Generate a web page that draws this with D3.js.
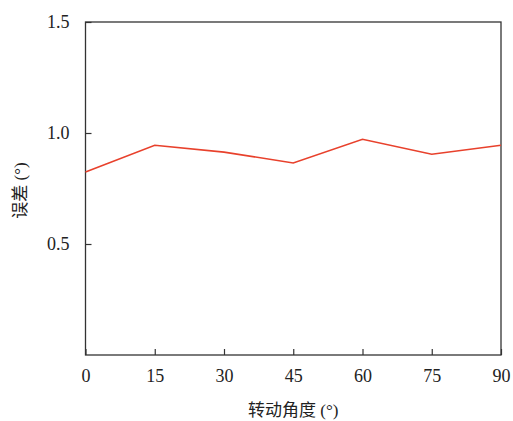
<!DOCTYPE html>
<html>
<head>
<meta charset="utf-8">
<script src="https://cdn.jsdelivr.net/npm/d3@7"></script>
<style>
  body { margin: 0; background: #fff; }
  svg text { font-family: "Liberation Serif", "DejaVu Serif", "Times New Roman", serif; fill: #222; }
  svg .cjk { font-family: "Noto Sans CJK SC", "Noto Sans", sans-serif; }
</style>
</head>
<body>
<div class="chart"></div>
<script>
const angles = [0, 15, 30, 45, 60, 75, 90]
const errors = [0.824, 0.945, 0.914, 0.865, 0.972, 0.904, 0.945]
const yTicks = [0.5, 1.0, 1.5]

const width = 513
const height = 421
const margin = {top: 22, right: 12, bottom: 66, left: 85.5}
const serif = "'Liberation Serif', 'DejaVu Serif', 'Times New Roman', serif"

const svg = d3.select(".chart").append("svg")
  .attr("width", width)
  .attr("height", height)

const x = d3.scaleLinear()
  .domain([0, 90])
  .range([margin.left, width - margin.right])

const y = d3.scaleLinear()
  .domain([0, 1.5])
  .range([height - margin.bottom, margin.top])

// frame
svg.append("rect")
  .attr("x", x(0))
  .attr("y", y(1.5))
  .attr("width", x(90) - x(0))
  .attr("height", y(0) - y(1.5))
  .attr("fill", "none")
  .attr("stroke", "#333")
  .attr("stroke-width", 1.3)

const xAxis = svg.append("g")
  .attr("transform", `translate(0,${y(0)})`)
  .call(d3.axisBottom(x).tickValues(angles).tickSizeInner(-6).tickSizeOuter(0).tickPadding(14).tickFormat(d3.format("d")))
xAxis.attr("font-family", serif)
xAxis.select(".domain").remove()
xAxis.selectAll("line").attr("stroke", "#333").attr("stroke-width", 1.2)
xAxis.selectAll("text").attr("font-size", 18).attr("fill", "#222")

const yAxis = svg.append("g")
  .attr("transform", `translate(${x(0)},0)`)
  .call(d3.axisLeft(y).tickValues(yTicks).tickSizeInner(-6).tickSizeOuter(0).tickPadding(16).tickFormat(d3.format(".1f")))
yAxis.attr("font-family", serif)
yAxis.select(".domain").remove()
yAxis.selectAll("line").attr("stroke", "#333").attr("stroke-width", 1.2)
yAxis.selectAll("text").attr("font-size", 18).attr("fill", "#222")

const line = d3.line()
  .x((d, i) => x(angles[i]))
  .y(d => y(d))

svg.append("path")
  .datum(errors)
  .attr("d", line)
  .attr("fill", "none")
  .attr("stroke", "#e8412c")
  .attr("stroke-width", 1.6)

svg.append("text")
  .attr("x", (x(0) + x(90)) / 2)
  .attr("y", 416)
  .attr("text-anchor", "middle")
  .attr("font-size", 17)
  .html('<tspan class="cjk">转动角度</tspan> (°)')

svg.append("text")
  .attr("transform", `translate(26,${(y(0) + y(1.5)) / 2 + 2}) rotate(-90)`)
  .attr("text-anchor", "middle")
  .attr("font-size", 17)
  .html('<tspan class="cjk">误差</tspan> (°)')
</script>
</body>
</html>
